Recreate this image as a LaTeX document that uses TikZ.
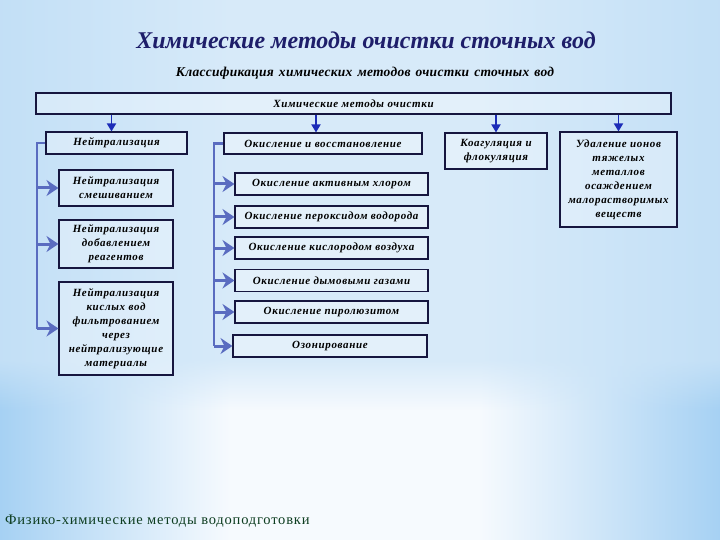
\documentclass[tikz,border=0pt]{standalone}
\usepackage{fontspec}
\setmainfont{Liberation Serif}
\newfontfamily\boxfont[LetterSpace=6]{Liberation Serif}
\newfontfamily\subfont[LetterSpace=2,WordSpace=1.4]{Liberation Serif}
\newfontfamily\footfont[LetterSpace=5.5]{Liberation Serif}
\usetikzlibrary{arrows.meta,fadings}
\definecolor{bgedge}{HTML}{A6D1F3}
\definecolor{bgmid}{HTML}{F6FAFE}
\definecolor{bgtop}{HTML}{CDE5F8}
\definecolor{titlenavy}{HTML}{1E1E6A}
\definecolor{boxline}{HTML}{16163F}
\definecolor{downblue}{HTML}{1C2CB8}
\definecolor{sideblue}{HTML}{5A6CC0}
\definecolor{footgreen}{HTML}{0D3D20}
\begin{document}
\begin{tikzpicture}[x=1pt, y=-1pt,
    methbox/.style={draw=boxline, line width=1.1pt, fill=white, fill opacity=0.3, text opacity=1,
      inner sep=0pt, align=center, font=\boxfont\bfseries\itshape\fontsize{11}{14}\selectfont},
    downarr/.style={draw=downblue, line width=1.8pt, -{Triangle[length=8pt,width=9pt]}},
    branch/.style={draw=sideblue, line width=2.6pt},
    sidearr/.style={draw=sideblue, line width=3pt, -{Stealth[length=12pt,width=16pt,inset=4pt]}}]
    \useasboundingbox (0, 0) rectangle (720, 540);
    \fill [bgmid] (0, 0) rectangle (720, 540);
    \shade [left color=bgedge, right color=bgmid] (0, 0) rectangle (230, 540);
    \shade [left color=bgmid, right color=bgedge] (480, 0) rectangle (720, 540);
    \fill [bgtop, fill opacity=0.75] (0, 0) rectangle (720, 360);
    \fill [bgtop, fill opacity=0.75, path fading=south] (0, 360) rectangle (720, 410);

    \node (title) at (366, 40) {\color{titlenavy}\bfseries\itshape\fontsize{24}{28}\selectfont Химические методы очистки сточных вод};
    \node (subtitle) at (365, 73) {\subfont\bfseries\itshape\fontsize{13.5}{16}\selectfont Классификация химических методов очистки сточных вод};

    \node [methbox, minimum width=635, minimum height=21] (top) at (353.5, 103.5) {Химические методы очистки};

    \begin{scope}
      \node [methbox, minimum width=141, minimum height=22] (neut) at (116.5, 143) {Нейтрализация};
      \node [methbox, minimum width=114, minimum height=36] (neutA) at (116, 188) {Нейтрализация\\смешиванием};
      \node [methbox, minimum width=114, minimum height=48] (neutB) at (116, 244) {Нейтрализация\\добавлением\\реагентов};
      \node [methbox, minimum width=114, minimum height=93] (neutC) at (116, 328.5) {Нейтрализация\\кислых вод\\фильтрованием\\через\\нейтрализующие\\материалы};
      \coordinate (nbot) at (37, 328.5);
      \draw [branch] (neut.west) -| (nbot);
      \draw [sidearr] (neutA.west -| nbot) -- (neutA.west);
      \draw [sidearr] (neutB.west -| nbot) -- (neutB.west);
      \draw [sidearr] (neutC.west -| nbot) -- (neutC.west);
    \end{scope}

    \begin{scope}
      \node [methbox, minimum width=198, minimum height=21] (ox) at (323, 143.5) {Окисление и восстановление};
      \node [methbox, minimum width=193, minimum height=22] (oxA) at (331.5, 184) {Окисление активным хлором};
      \node [methbox, minimum width=193, minimum height=22] (oxB) at (331.5, 217) {Окисление пероксидом водорода};
      \node [methbox, minimum width=193, minimum height=22] (oxC) at (331.5, 248) {Окисление кислородом воздуха};
      \node [methbox, minimum width=193, minimum height=22] (oxD) at (331.5, 280.5) {Окисление дымовыми газами};
      \node [methbox, minimum width=193, minimum height=22] (oxE) at (331.5, 312) {Окисление пиролюзитом};
      \node [methbox, minimum width=194, minimum height=22] (oxF) at (330, 346) {Озонирование};
      \coordinate (obot) at (214, 346);
      \draw [branch] (ox.west) -| (obot);
      \draw [sidearr] (oxA.west -| obot) -- (oxA.west);
      \draw [sidearr] (oxB.west -| obot) -- (oxB.west);
      \draw [sidearr] (oxC.west -| obot) -- (oxC.west);
      \draw [sidearr] (oxD.west -| obot) -- (oxD.west);
      \draw [sidearr] (oxE.west -| obot) -- (oxE.west);
      \draw [sidearr] (oxF.west -| obot) -- (oxF.west);
    \end{scope}

    \node [methbox, minimum width=102, minimum height=36] (coag) at (496, 151) {Коагуляция и\\флокуляция};
    \node [methbox, minimum width=117, minimum height=95] (heavy) at (618.5, 179.5) {Удаление ионов\\тяжелых\\металлов\\осаждением\\малорастворимых\\веществ};

    \draw [downarr] ([xshift=-5]top.south -| neut.north) -- ([xshift=-5]neut.north);
    \draw [downarr] ([xshift=-7]top.south -| ox.north) -- ([xshift=-7]ox.north);
    \draw [downarr] (top.south -| coag.north) -- (coag.north);
    \draw [downarr] (top.south -| heavy.north) -- (heavy.north);

    \node [anchor=west, inner sep=0pt] (footer) at (5, 521) {\color{footgreen}\footfont\fontsize{14.5}{17}\selectfont Физико-химические методы водоподготовки};
  \end{tikzpicture}
\end{document}
